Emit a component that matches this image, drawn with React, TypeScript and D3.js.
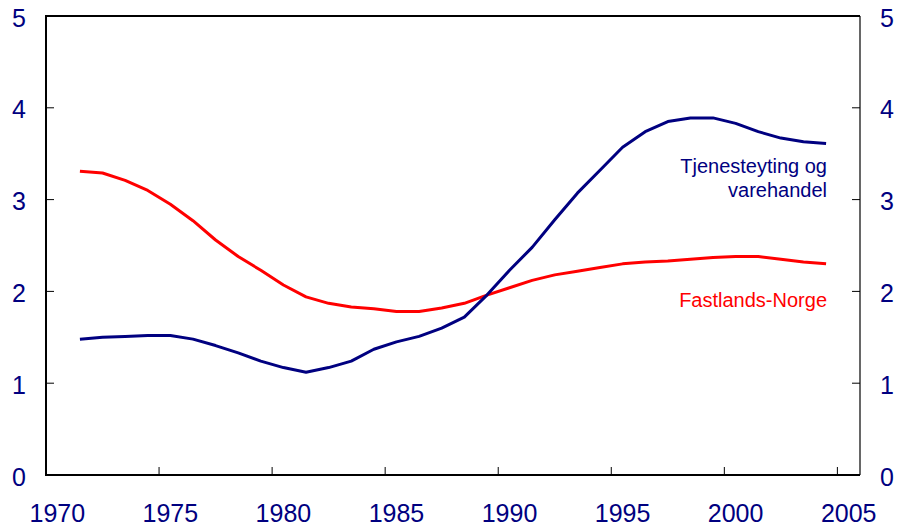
import React from "react";
import * as d3 from "d3";

const years = d3.range(1971, 2005);
const fastlandsNorge = [3.31, 3.29, 3.21, 3.10, 2.95, 2.77, 2.56, 2.38, 2.23, 2.07, 1.94, 1.87, 1.83, 1.81, 1.78, 1.78, 1.82, 1.87, 1.96, 2.04, 2.12, 2.18, 2.22, 2.26, 2.30, 2.32, 2.33, 2.35, 2.37, 2.38, 2.38, 2.35, 2.32, 2.30];
const tjenesteyting = [1.48, 1.50, 1.51, 1.52, 1.52, 1.48, 1.41, 1.33, 1.24, 1.17, 1.12, 1.17, 1.24, 1.37, 1.45, 1.51, 1.60, 1.72, 1.96, 2.23, 2.48, 2.78, 3.07, 3.32, 3.57, 3.74, 3.85, 3.89, 3.89, 3.83, 3.74, 3.67, 3.63, 3.61];
const xTicks = [1970, 1975, 1980, 1985, 1990, 1995, 2000, 2005];
const yTicks = [0, 1, 2, 3, 4, 5];

const W = 900, H = 528;
const L = 46, R = 860, T = 16, B = 475;
const navy = "#000080";
const red = "#ff0000";
const font = "'Liberation Sans', Arial, sans-serif";

export default function App() {
  const x = d3.scaleLinear().domain([1970, 2006]).range([L, R]);
  const y = d3.scaleLinear().domain([0, 5]).range([B, T]);
  const line = d3.line<number>().x((_, i) => x(years[i] + 0.5)).y((d) => y(d));

  return (
    <div style={{ position: "absolute", left: 0, top: 0 }}>
      <svg width={W} height={H} style={{ display: "block", background: "#fff" }}>
        {/* frame */}
        <line x1={L} y1={T} x2={R} y2={T} stroke="#000" strokeWidth={2} />
        <line x1={R} y1={T} x2={R} y2={B} stroke="#000" strokeWidth={1.2} />
        <line x1={L} y1={T - 1} x2={L} y2={B + 1} stroke="#000" strokeWidth={2} />
        <line x1={L} y1={B} x2={R} y2={B} stroke="#000" strokeWidth={2} />
        {/* y ticks */}
        {yTicks.filter((t) => t > 0 && t < 5).map((t) => (
          <g key={"yt" + t}>
            <line x1={L} x2={L + 8} y1={y(t)} y2={y(t)} stroke="#000" strokeWidth={1} />
            <line x1={R - 8} x2={R} y1={y(t)} y2={y(t)} stroke="#000" strokeWidth={1} />
          </g>
        ))}
        {yTicks.map((t) => (
          <g key={"yl" + t} fontFamily={font} fontSize={25} fill={navy} textAnchor="middle">
            <text x={19} y={y(t) + 10.5}>{t}</text>
            <text x={887} y={y(t) + 10.5}>{t}</text>
          </g>
        ))}
        {/* x ticks */}
        {xTicks.filter((t) => t > 1970).map((t) => (
          <line key={"xt" + t} x1={x(t)} x2={x(t)} y1={B} y2={B - 8} stroke="#000" strokeWidth={1} />
        ))}
        {xTicks.map((t) => (
          <text key={"xl" + t} x={x(t + 0.5)} y={522} fontFamily={font} fontSize={25} fill={navy} textAnchor="middle">{t}</text>
        ))}
        {/* series */}
        <path d={line(fastlandsNorge) || ""} fill="none" stroke={red} strokeWidth={3} strokeLinejoin="round" />
        <path d={line(tjenesteyting) || ""} fill="none" stroke={navy} strokeWidth={3} strokeLinejoin="round" />
        {/* labels */}
        <g fontFamily={font} fontSize={20} textAnchor="end">
          <text x={827} y={173} fill={navy}>Tjenesteyting og</text>
          <text x={827} y={197} fill={navy}>varehandel</text>
          <text x={827} y={307} fill={red}>Fastlands-Norge</text>
        </g>
      </svg>
    </div>
  );
}
